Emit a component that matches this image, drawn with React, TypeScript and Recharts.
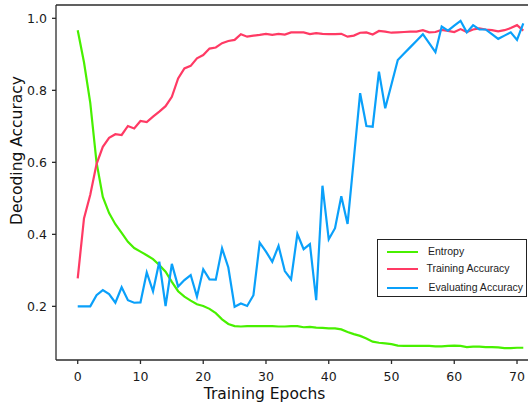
import { LineChart, Line, XAxis, YAxis, ReferenceLine } from 'recharts';

// training run, one value per epoch
const epochs = [
  0, 1, 2, 3, 4, 5, 6, 7, 8, 9, 10, 11, 12, 13, 14, 15, 16, 17, 18, 19, 20, 21, 22, 23,
  24, 25, 26, 27, 28, 29, 30, 31, 32, 33, 34, 35, 36, 37, 38, 39, 40, 41, 42, 43, 44, 45, 46, 47,
  48, 49, 50, 51, 52, 53, 54, 55, 56, 57, 58, 59, 60, 61, 62, 63, 64, 65, 66, 67, 68, 69, 70, 71,
];

const entropy = [
  0.967, 0.878, 0.765, 0.6, 0.504, 0.459, 0.428, 0.404, 0.379, 0.362, 0.352, 0.342,
  0.331, 0.315, 0.296, 0.268, 0.242, 0.227, 0.216, 0.206, 0.201, 0.193, 0.181, 0.164,
  0.151, 0.145, 0.144, 0.145, 0.145, 0.145, 0.145, 0.145, 0.144, 0.144, 0.145, 0.145,
  0.142, 0.143, 0.141, 0.14, 0.139, 0.139, 0.136, 0.129, 0.123, 0.118, 0.111, 0.102,
  0.099, 0.097, 0.095, 0.091, 0.09, 0.09, 0.09, 0.09, 0.09, 0.089, 0.089, 0.09,
  0.091, 0.09, 0.087, 0.088, 0.088, 0.087, 0.087, 0.086, 0.084, 0.084, 0.085, 0.085,
];

const trainingAccuracy = [
  0.278, 0.444, 0.51, 0.595, 0.643, 0.668, 0.678, 0.676, 0.701, 0.694, 0.715, 0.712,
  0.727, 0.741, 0.756, 0.782, 0.833, 0.861, 0.868, 0.889, 0.898, 0.916, 0.919, 0.931,
  0.937, 0.94, 0.956, 0.949, 0.952, 0.954, 0.957, 0.954, 0.957, 0.955, 0.961, 0.961,
  0.961, 0.956, 0.959, 0.957, 0.956, 0.956, 0.957, 0.949, 0.952, 0.96, 0.961, 0.955,
  0.965, 0.963, 0.96, 0.961, 0.962, 0.963, 0.963, 0.967, 0.961, 0.962, 0.968, 0.965,
  0.962, 0.97, 0.962, 0.969, 0.972, 0.969, 0.967, 0.964, 0.967, 0.973, 0.981, 0.966,
];

const evaluatingAccuracy = [
  0.2, 0.2, 0.2, 0.231, 0.245, 0.234, 0.21, 0.253, 0.217, 0.21, 0.211, 0.294,
  0.242, 0.324, 0.201, 0.318, 0.255, 0.273, 0.287, 0.227, 0.303, 0.275, 0.274, 0.361,
  0.308, 0.199, 0.208, 0.201, 0.231, 0.377, 0.352, 0.324, 0.368, 0.298, 0.275, 0.401,
  0.359, 0.373, 0.217, 0.535, 0.386, 0.417, 0.506, 0.429, 0.61, 0.792, 0.701, 0.699,
  0.852, 0.75, 0.817, 0.884, 0.902, 0.92, 0.938, 0.956, 0.931, 0.906, 0.977, 0.966,
  0.98, 0.993, 0.961, 0.981, 0.969, 0.969, 0.956, 0.943, 0.952, 0.961, 0.94, 0.986,
];

const xTicks = [0, 10, 20, 30, 40, 50, 60, 70];
const yTicks = [0.2, 0.4, 0.6, 0.8, 1.0];

const X_DOMAIN: [number, number] = [-3.46, 71.75];
const Y_DOMAIN: [number, number] = [0.051, 1.037];

const series = [
  { key: 'entropy', name: 'Entropy', color: '#48f000' },
  { key: 'training', name: 'Training Accuracy', color: '#ff3a64' },
  { key: 'evaluating', name: 'Evaluating Accuracy', color: '#0aa0fa' },
];

const data = epochs.map((epoch, i) => ({
  epoch,
  entropy: entropy[i],
  training: trainingAccuracy[i],
  evaluating: evaluatingAccuracy[i],
}));

const AXIS_FONT = '"DejaVu Sans", sans-serif';
const SPINE = '#2b2b2b';
const tickStyle = { fontFamily: AXIS_FONT, fontSize: 12.5, fill: '#1a1a1a' };

function LegendBox() {
  const rows = [11.5, 28.5, 47.5];
  const textX = [50, 48.5, 50.5];
  return (
    <div
      style={{
        position: 'absolute',
        left: 377,
        top: 239,
        width: 148,
        height: 56,
        border: '1px solid #222',
        background: '#fff',
        fontFamily: '"Liberation Sans", Arial, sans-serif',
        fontSize: 10.5,
        color: '#222',
      }}
    >
      {series.map((s, i) => (
        <div key={s.key}>
          <div
            style={{
              position: 'absolute',
              left: 9,
              top: rows[i] - 1,
              width: 31,
              height: 2.2,
              background: s.color,
            }}
          />
          <div
            style={{
              position: 'absolute',
              left: textX[i],
              top: rows[i] - 7,
              lineHeight: '13px',
              whiteSpace: 'nowrap',
            }}
          >
            {s.name}
          </div>
        </div>
      ))}
    </div>
  );
}

export default function App() {
  return (
    <div
      style={{
        position: 'absolute',
        left: 0,
        top: 0,
        width: 528,
        height: 407,
        overflow: 'hidden',
        background: '#fff',
      }}
    >
      <LineChart width={528} height={407} data={data} margin={{ top: 5, right: 0, left: 0, bottom: 0 }}>
        <XAxis
          dataKey="epoch"
          type="number"
          domain={X_DOMAIN}
          ticks={xTicks}
          allowDataOverflow
          height={47}
          tickSize={4}
          tickMargin={8}
          tick={tickStyle}
          stroke={SPINE}
          strokeWidth={1.3}
          label={() => (
            <text x={264.5} y={399} textAnchor="middle" fontFamily={AXIS_FONT} fontSize={15.5} fill="#111">
              Training Epochs
            </text>
          )}
        />
        <YAxis
          type="number"
          domain={Y_DOMAIN}
          ticks={yTicks}
          allowDataOverflow
          width={56}
          tickSize={4}
          tickMargin={5}
          tick={tickStyle}
          tickFormatter={(v: number) => v.toFixed(1)}
          stroke={SPINE}
          strokeWidth={1.3}
          label={() => (
            <text
              x={22}
              y={150.5}
              textAnchor="middle"
              transform="rotate(-90 22 150.5)"
              fontFamily={AXIS_FONT}
              fontSize={15.5}
              fill="#111"
            >
              Decoding Accuracy
            </text>
          )}
        />
        <ReferenceLine y={Y_DOMAIN[1]} stroke={SPINE} strokeWidth={1.3} />
        {series.map((s) => (
          <Line
            key={s.key}
            type="linear"
            dataKey={s.key}
            name={s.name}
            stroke={s.color}
            strokeWidth={2.2}
            dot={false}
            activeDot={false}
            isAnimationActive={false}
          />
        ))}
      </LineChart>
      <LegendBox />
    </div>
  );
}
